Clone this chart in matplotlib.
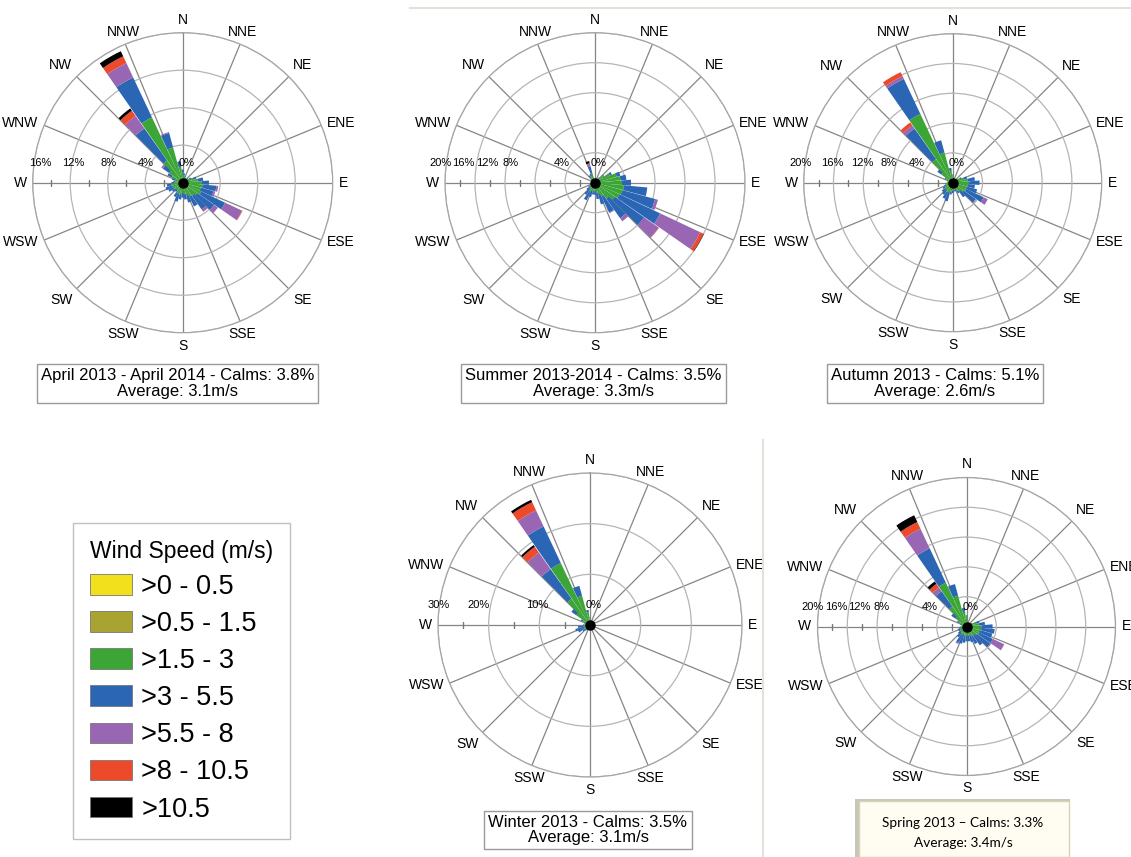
import numpy as np
import matplotlib.pyplot as plt
import matplotlib.transforms as mtransforms
from matplotlib.patches import Patch, Rectangle
from matplotlib.lines import Line2D

plt.rcParams['font.family'] = ['Liberation Sans', 'DejaVu Sans']

# direction bins (degrees, clockwise from north)
directions = np.arange(0, 360, 10)
compass = ['N', 'NNE', 'NE', 'ENE', 'E', 'ESE', 'SE', 'SSE',
           'S', 'SSW', 'SW', 'WSW', 'W', 'WNW', 'NW', 'NNW']
speed_labels = ['>0 - 0.5', '>0.5 - 1.5', '>1.5 - 3', '>3 - 5.5',
                '>5.5 - 8', '>8 - 10.5', '>10.5']
speed_colors = ['#f3e01c', '#a9a431', '#3ba636', '#2b66b5',
                '#9966b3', '#ec4a2a', '#000000']

# ---- April 2013 - April 2014 (%, per 10 deg bin) ----
annual_yellow = [0.1, 0.1, 0.1, 0.05, 0.05, 0.05, 0.1, 0.1, 0.1, 0.1, 0.1, 0.1, 0.1, 0.1, 0.1, 0.1, 0.1, 0.1,
                 0.1, 0.1, 0.1, 0.1, 0.1, 0.1, 0.1, 0.1, 0.1, 0.1, 0.1, 0.1, 0.1, 0.1, 0.1, 0.1, 0.1, 0.1]
annual_olive = [0.3, 0.2, 0.2, 0.15, 0.15, 0.15, 0.2, 0.3, 0.3, 0.3, 0.3, 0.3, 0.3, 0.3, 0.3, 0.3, 0.3, 0.2,
                0.2, 0.3, 0.3, 0.3, 0.2, 0.2, 0.3, 0.3, 0.3, 0.2, 0.2, 0.2, 0.3, 0.3, 0.3, 0.3, 0.3, 0.3]
annual_green = [0.7, 0.5, 0.4, 0.3, 0.3, 0.4, 0.5, 0.8, 1.2, 1.6, 1.8, 1.6, 1.8, 1.5, 1.3, 1.2, 1.0, 0.9,
                0.8, 0.8, 0.9, 0.8, 0.6, 0.7, 0.7, 0.8, 0.8, 0.6, 0.5, 0.6, 0.9, 1.4, 2.5, 7.3, 3.5, 1.3]
annual_blue = [0.3, 0.2, 0.1, 0.1, 0.1, 0.1, 0.2, 0.3, 0.6, 0.8, 1.4, 1.4, 2.8, 2.2, 1.8, 1.2, 0.8, 0.6,
               0.5, 0.6, 0.8, 0.5, 0.3, 0.4, 0.6, 0.7, 0.5, 0.3, 0.2, 0.3, 0.5, 0.8, 4.2, 4.7, 1.6, 0.6]
annual_purple = [0, 0, 0, 0, 0, 0, 0, 0, 0, 0, 0.2, 0.2, 2.0, 0.5, 0.3, 0, 0, 0,
                 0, 0, 0, 0, 0, 0, 0, 0, 0, 0, 0, 0, 0, 0.2, 1.6, 1.7, 0.1, 0]
annual_red = [0, 0, 0, 0, 0, 0, 0, 0, 0, 0, 0, 0, 0.05, 0, 0, 0, 0, 0,
              0, 0, 0, 0, 0, 0, 0, 0, 0, 0, 0, 0, 0, 0, 0.7, 0.8, 0, 0]
annual_black = [0, 0, 0, 0, 0, 0, 0, 0, 0, 0, 0, 0, 0, 0, 0, 0, 0, 0,
                0, 0, 0, 0, 0, 0, 0, 0, 0, 0, 0, 0, 0, 0, 0.3, 0.6, 0, 0]

# ---- Summer 2013-2014 ----
summer_yellow = [0.05, 0.05, 0.05, 0.05, 0.1, 0.1, 0.1, 0.1, 0.1, 0.1, 0.1, 0.1, 0.1, 0.1, 0.1, 0.1, 0.1, 0.1,
                 0.1, 0.1, 0.1, 0.1, 0.1, 0.1, 0.1, 0.05, 0.05, 0.05, 0.05, 0.05, 0.05, 0.05, 0.1, 0.1, 0.1, 0.05]
summer_olive = [0.2, 0.1, 0.1, 0.1, 0.2, 0.2, 0.3, 0.3, 0.3, 0.3, 0.3, 0.3, 0.3, 0.3, 0.3, 0.3, 0.3, 0.3,
                0.2, 0.2, 0.2, 0.2, 0.2, 0.2, 0.2, 0.2, 0.2, 0.2, 0.2, 0.2, 0.2, 0.2, 0.2, 0.3, 0.2, 0.2]
summer_green = [0.2, 0.2, 0.2, 0.3, 0.5, 1.0, 1.8, 2.6, 3.0, 3.2, 3.5, 3.4, 3.2, 2.8, 2.2, 1.6, 1.2, 0.9,
                0.8, 0.8, 0.9, 1.0, 0.8, 0.6, 0.4, 0.3, 0.3, 0.2, 0.2, 0.2, 0.3, 0.4, 0.6, 0.6, 1.0, 0.3]
summer_blue = [0.0, 0.0, 0.0, 0.0, 0.1, 0.2, 0.3, 0.5, 0.8, 1.2, 3.1, 4.5, 6.0, 4.8, 3.2, 2.4, 1.4, 0.9,
               0.5, 0.5, 0.8, 1.3, 0.9, 0.5, 0.3, 0.1, 0.0, 0.0, 0.0, 0.0, 0.0, 0.1, 0.3, 0.3, 1.0, 0.0]
summer_purple = [0, 0, 0, 0, 0, 0, 0, 0, 0, 0, 0, 0.4, 5.9, 2.4, 0.5, 0.1, 0, 0,
                 0, 0, 0, 0, 0, 0, 0, 0, 0, 0, 0, 0, 0, 0, 0, 0, 0.3, 0]
summer_red = [0, 0, 0, 0, 0, 0, 0, 0, 0, 0, 0, 0, 0.5, 0.05, 0, 0, 0, 0,
              0, 0, 0, 0, 0, 0, 0, 0, 0, 0, 0, 0, 0, 0, 0, 0, 0.1, 0]
summer_black = [0, 0, 0, 0, 0, 0, 0, 0, 0, 0, 0, 0, 0.05, 0, 0, 0, 0, 0,
                0, 0, 0, 0, 0, 0, 0, 0, 0, 0, 0, 0, 0, 0, 0, 0, 0.3, 0]

# ---- Autumn 2013 ----
autumn_yellow = [0.1, 0.1, 0.1, 0.1, 0.1, 0.1, 0.1, 0.1, 0.1, 0.1, 0.1, 0.1, 0.1, 0.1, 0.1, 0.1, 0.1, 0.1,
                 0.1, 0.1, 0.1, 0.1, 0.1, 0.1, 0.1, 0.1, 0.1, 0.1, 0.1, 0.1, 0.1, 0.1, 0.1, 0.1, 0.1, 0.1]
autumn_olive = [0.3, 0.2, 0.2, 0.1, 0.2, 0.2, 0.3, 0.3, 0.3, 0.3, 0.3, 0.3, 0.3, 0.3, 0.3, 0.3, 0.3, 0.3,
                0.3, 0.3, 0.3, 0.3, 0.3, 0.3, 0.3, 0.3, 0.3, 0.3, 0.3, 0.3, 0.3, 0.3, 0.3, 0.3, 0.3, 0.3]
autumn_green = [0.6, 0.4, 0.3, 0.3, 0.3, 0.5, 0.7, 1.2, 1.6, 1.8, 1.6, 1.6, 1.6, 1.4, 1.0, 0.8, 0.6, 0.6,
                0.7, 0.8, 1.0, 1.0, 0.9, 0.8, 0.7, 0.6, 0.5, 0.4, 0.3, 0.4, 0.6, 1.5, 3.5, 9.8, 3.8, 1.2]
autumn_blue = [0.1, 0.0, 0.0, 0.0, 0.0, 0.0, 0.2, 0.4, 1.0, 1.4, 1.0, 1.4, 2.6, 2.0, 1.0, 0.4, 0.2, 0.2,
               0.3, 0.4, 1.2, 1.0, 0.7, 0.6, 0.4, 0.2, 0.1, 0.0, 0.0, 0.0, 0.2, 0.6, 5.0, 5.2, 1.7, 0.4]
autumn_purple = [0, 0, 0, 0, 0, 0, 0, 0, 0, 0, 0, 0, 0.6, 0.1, 0, 0, 0, 0,
                 0, 0, 0, 0, 0, 0, 0, 0, 0, 0, 0, 0, 0, 0.05, 0.5, 0.4, 0, 0]
autumn_red = [0, 0, 0, 0, 0, 0, 0, 0, 0, 0, 0, 0, 0, 0, 0, 0, 0, 0,
              0, 0, 0, 0, 0, 0, 0, 0, 0, 0, 0, 0, 0, 0, 0.5, 0.6, 0, 0]
autumn_black = [0] * 36

# ---- Winter 2013 ----
winter_yellow = [0.1, 0.1, 0.1, 0.1, 0.1, 0.1, 0.1, 0.1, 0.1, 0.1, 0.1, 0.1, 0.1, 0.1, 0.1, 0.1, 0.1, 0.1,
                 0.1, 0.1, 0.1, 0.1, 0.1, 0.1, 0.1, 0.1, 0.1, 0.1, 0.1, 0.1, 0.1, 0.1, 0.1, 0.1, 0.1, 0.1]
winter_olive = [0.2, 0.2, 0.2, 0.2, 0.2, 0.2, 0.2, 0.2, 0.2, 0.2, 0.2, 0.2, 0.2, 0.2, 0.2, 0.2, 0.2, 0.2,
                0.2, 0.2, 0.2, 0.2, 0.2, 0.2, 0.2, 0.2, 0.2, 0.2, 0.2, 0.2, 0.2, 0.2, 0.2, 0.2, 0.2, 0.2]
winter_green = [1.0, 0.3, 0.1, 0.0, 0.0, 0.0, 0.0, 0.0, 0.0, 0.1, 0.1, 0.2, 0.3, 0.3, 0.2, 0.2, 0.2, 0.2,
                0.3, 0.4, 0.5, 0.6, 0.7, 0.8, 1.0, 1.0, 0.9, 0.7, 0.5, 0.6, 1.2, 3.0, 6.0, 13.2, 5.7, 2.2]
winter_blue = [0.2, 0.0, 0.0, 0.0, 0.0, 0.0, 0.0, 0.0, 0.0, 0.0, 0.0, 0.0, 0.0, 0.0, 0.0, 0.0, 0.0, 0.0,
               0.0, 0.1, 0.2, 0.3, 0.4, 0.7, 1.3, 1.7, 1.2, 0.4, 0.2, 0.3, 0.5, 1.2, 7.2, 8.0, 2.0, 0.5]
winter_purple = [0, 0, 0, 0, 0, 0, 0, 0, 0, 0, 0, 0, 0, 0, 0, 0, 0, 0,
                 0, 0, 0, 0, 0, 0, 0, 0, 0, 0, 0, 0, 0, 0, 4.0, 3.5, 0, 0]
winter_red = [0, 0, 0, 0, 0, 0, 0, 0, 0, 0, 0, 0, 0, 0, 0, 0, 0, 0,
              0, 0, 0, 0, 0, 0, 0, 0, 0, 0, 0, 0, 0, 0, 1.4, 1.8, 0, 0]
winter_black = [0, 0, 0, 0, 0, 0, 0, 0, 0, 0, 0, 0, 0, 0, 0, 0, 0, 0,
                0, 0, 0, 0, 0, 0, 0, 0, 0, 0, 0, 0, 0, 0, 0.4, 0.5, 0, 0]

# ---- Spring 2013 ----
spring_yellow = [0.1, 0.1, 0.1, 0.1, 0.1, 0.1, 0.1, 0.1, 0.1, 0.1, 0.1, 0.1, 0.1, 0.1, 0.1, 0.1, 0.1, 0.1,
                 0.1, 0.1, 0.1, 0.1, 0.1, 0.1, 0.1, 0.1, 0.1, 0.1, 0.1, 0.1, 0.1, 0.1, 0.1, 0.1, 0.1, 0.1]
spring_olive = [0.3, 0.2, 0.2, 0.2, 0.2, 0.2, 0.3, 0.3, 0.3, 0.3, 0.3, 0.3, 0.3, 0.3, 0.3, 0.3, 0.3, 0.3,
                0.3, 0.3, 0.3, 0.3, 0.3, 0.3, 0.3, 0.3, 0.3, 0.3, 0.3, 0.3, 0.3, 0.3, 0.3, 0.3, 0.3, 0.3]
spring_green = [1.0, 0.5, 0.3, 0.2, 0.2, 0.3, 0.5, 1.0, 1.3, 1.6, 1.6, 1.5, 1.5, 1.3, 1.1, 1.0, 0.9, 0.8,
                0.8, 0.8, 0.8, 0.8, 0.7, 0.6, 0.5, 0.5, 0.4, 0.3, 0.3, 0.4, 0.7, 1.4, 2.9, 6.1, 3.9, 1.6]
spring_blue = [0.1, 0.0, 0.0, 0.0, 0.0, 0.0, 0.0, 0.4, 0.8, 1.5, 1.8, 1.7, 2.0, 2.2, 1.6, 1.2, 0.9, 0.8,
               0.8, 1.0, 1.2, 1.2, 0.7, 0.4, 0.3, 0.3, 0.2, 0.1, 0.0, 0.1, 0.3, 0.7, 2.5, 5.1, 1.6, 0.5]
spring_purple = [0, 0, 0, 0, 0, 0, 0, 0, 0, 0, 0, 0, 1.7, 0.1, 0, 0, 0, 0,
                 0, 0, 0, 0.2, 0, 0, 0, 0, 0, 0, 0, 0, 0, 0, 0.6, 2.9, 0, 0]
spring_red = [0, 0, 0, 0, 0, 0, 0, 0, 0, 0, 0, 0, 0, 0, 0, 0, 0, 0,
              0, 0, 0, 0, 0, 0, 0, 0, 0, 0, 0, 0, 0, 0, 0.6, 1.0, 0, 0]
spring_black = [0, 0, 0, 0, 0, 0, 0, 0, 0, 0, 0, 0, 0, 0, 0, 0, 0, 0,
                0, 0, 0, 0, 0, 0, 0, 0, 0, 0, 0, 0, 0, 0, 0.4, 1.0, 0, 0]

W, H = 1131, 857
fig = plt.figure(figsize=(W / 100, H / 100), dpi=100)


def shifted(ax, dx, dy):
    # offset in pixels (dpi 100)
    return ax.transData + mtransforms.ScaledTranslation(dx / 100, dy / 100, fig.dpi_scale_trans)


def draw_rose(cx, cy, rad, classes, rmax, rings, rlabels, label_r, minor):
    ax = fig.add_axes([(cx - rad) / W, 1 - (cy + rad) / H, 2 * rad / W, 2 * rad / H],
                      projection='polar')
    ax.set_theta_zero_location('N')
    ax.set_theta_direction(-1)
    theta = np.deg2rad(directions)
    bottom = np.zeros(len(directions))
    for vals, col in zip(classes, speed_colors):
        vals = np.array(vals, dtype=float)
        ax.bar(theta, vals, width=np.deg2rad(9.6), bottom=bottom, color=col,
               edgecolor='none', zorder=3)
        bottom += vals
    ax.plot(0, 0, 'o', color='black', ms=6.5, zorder=5)
    ax.set_ylim(0, rmax)
    ax.set_rgrids(rings, labels=[''] * len(rings))
    ax.set_thetagrids(np.arange(0, 360, 22.5), labels=[''] * 16)
    ax.grid(axis='x', color='#858585', lw=0.9)
    ax.grid(axis='y', color='#b5b5b5', lw=0.9)
    ax.spines['polar'].set_color('#a5a5a5')
    ax.spines['polar'].set_linewidth(0.9)

    # compass labels
    for ang, lab in zip(np.arange(0, 360, 22.5), compass):
        s, c = np.sin(np.deg2rad(ang)), np.cos(np.deg2rad(ang))
        ha = 'left' if s > 0.5 else ('right' if s < -0.5 else 'center')
        va = 'bottom' if c > 0.5 else ('top' if c < -0.5 else 'center')
        ax.text(np.deg2rad(ang), rmax, lab, ha=ha, va=va, fontsize=10,
                transform=shifted(ax, 6 * s, 6 * c), clip_on=False)

    # radial labels along the west axis
    for lab, r in zip(rlabels, label_r):
        dx = 4 if r == 0 else 0
        ax.text(np.deg2rad(270), r, lab, ha='center', va='center', fontsize=8,
                transform=shifted(ax, dx, 20), zorder=4)
    ax.plot([np.deg2rad(270)] * len(minor), minor, ls='none', marker='|',
            ms=4, color='#777777', zorder=2)
    return ax


draw_rose(182.7, 182.7, 150, [annual_yellow, annual_olive, annual_green, annual_blue,
                              annual_purple, annual_red, annual_black],
          16, [4, 8, 12, 16], ['16%', '12%', '8%', '4%', '0%'],
          [15.2, 11.7, 7.9, 3.9, 0], [2, 6, 10, 14])
draw_rose(595, 182.7, 150, [summer_yellow, summer_olive, summer_green, summer_blue,
                            summer_purple, summer_red, summer_black],
          20, [4, 8, 12, 16, 20], ['20%', '16%', '12%', '8%', '4%', '0%'],
          [20.6, 17.5, 14.4, 11.3, 4.5, 0], [2, 6, 10, 14, 18])
draw_rose(952.7, 182.7, 149, [autumn_yellow, autumn_olive, autumn_green, autumn_blue,
                              autumn_purple, autumn_red, autumn_black],
          20, [4, 8, 12, 16, 20], ['20%', '16%', '12%', '8%', '4%', '0%'],
          [20.4, 16.1, 12.1, 8.6, 4.8, 0], [2, 6, 10, 14, 18])
draw_rose(590, 625, 152, [winter_yellow, winter_olive, winter_green, winter_blue,
                          winter_purple, winter_red, winter_black],
          30, [10, 20, 30], ['30%', '20%', '10%', '0%'],
          [29.8, 22, 10.4, 0], [5, 15, 25])
draw_rose(966.5, 626.5, 149, [spring_yellow, spring_olive, spring_green, spring_blue,
                              spring_purple, spring_red, spring_black],
          20, [4, 8, 12, 16, 20], ['20%', '16%', '12%', '8%', '4%', '0%'],
          [20.6, 17.5, 14.4, 11.4, 4.9, 0], [2, 6, 10, 14, 18])

# caption boxes
box = dict(boxstyle='square,pad=0.25', fc='white', ec='#9a9a9a', lw=1)
captions = [
    (177.5, 383.5, 'April 2013 - April 2014 - Calms: 3.8%\nAverage: 3.1m/s'),
    (593.5, 383.5, 'Summer 2013-2014 - Calms: 3.5%\nAverage: 3.3m/s'),
    (935, 383.5, 'Autumn 2013 - Calms: 5.1%\nAverage: 2.6m/s'),
    (588, 830, 'Winter 2013 - Calms: 3.5%\nAverage: 3.1m/s'),
]
for x, y, txt in captions:
    fig.text(x / W, 1 - y / H, txt, ha='center', va='center', fontsize=12,
             linespacing=1.05, bbox=box)

# spring caption (different style)
fig.add_artist(Rectangle((855 / W, 0), 215 / W, 58 / H, transform=fig.transFigure,
                         fc='#c8c6b8', ec='none'))
fig.add_artist(Rectangle((859 / W, 0), 210 / W, 56 / H, transform=fig.transFigure,
                         fc='#fffdf2', ec='#d8d4b8', lw=1))
fig.text(963 / W, 1 - 833 / H, 'Spring 2013 \u2013 Calms: 3.3%\nAverage: 3.4m/s',
         ha='center', va='center', fontsize=9.8, linespacing=1.75,
         family=['Lato', 'DejaVu Sans'])

# faint panel separators
fig.add_artist(Line2D([410 / W, 1], [1 - 8 / H, 1 - 8 / H], transform=fig.transFigure,
                      color='#e2e2da', lw=1.5))
fig.add_artist(Line2D([763 / W, 763 / W], [0, 1 - 440 / H], transform=fig.transFigure,
                      color='#e2e2da', lw=1.5))

# legend
handles = [Patch(facecolor=c, edgecolor='#777777', lw=0.6) for c in speed_colors]
leg = fig.legend(handles, speed_labels, title='Wind Speed (m/s)', loc='upper left',
                 bbox_to_anchor=(73 / W, 1 - 523 / H), borderaxespad=0,
                 fontsize=19.5, title_fontsize=16.5,
                 frameon=True, fancybox=False, edgecolor='#b0b0b0', handlelength=1.55,
                 handleheight=0.8, handletextpad=0.35, labelspacing=0.41, borderpad=0.62,
                 alignment='left')
leg.get_frame().set_linewidth(1)

fig.savefig('out.png', dpi=100, facecolor='white')
